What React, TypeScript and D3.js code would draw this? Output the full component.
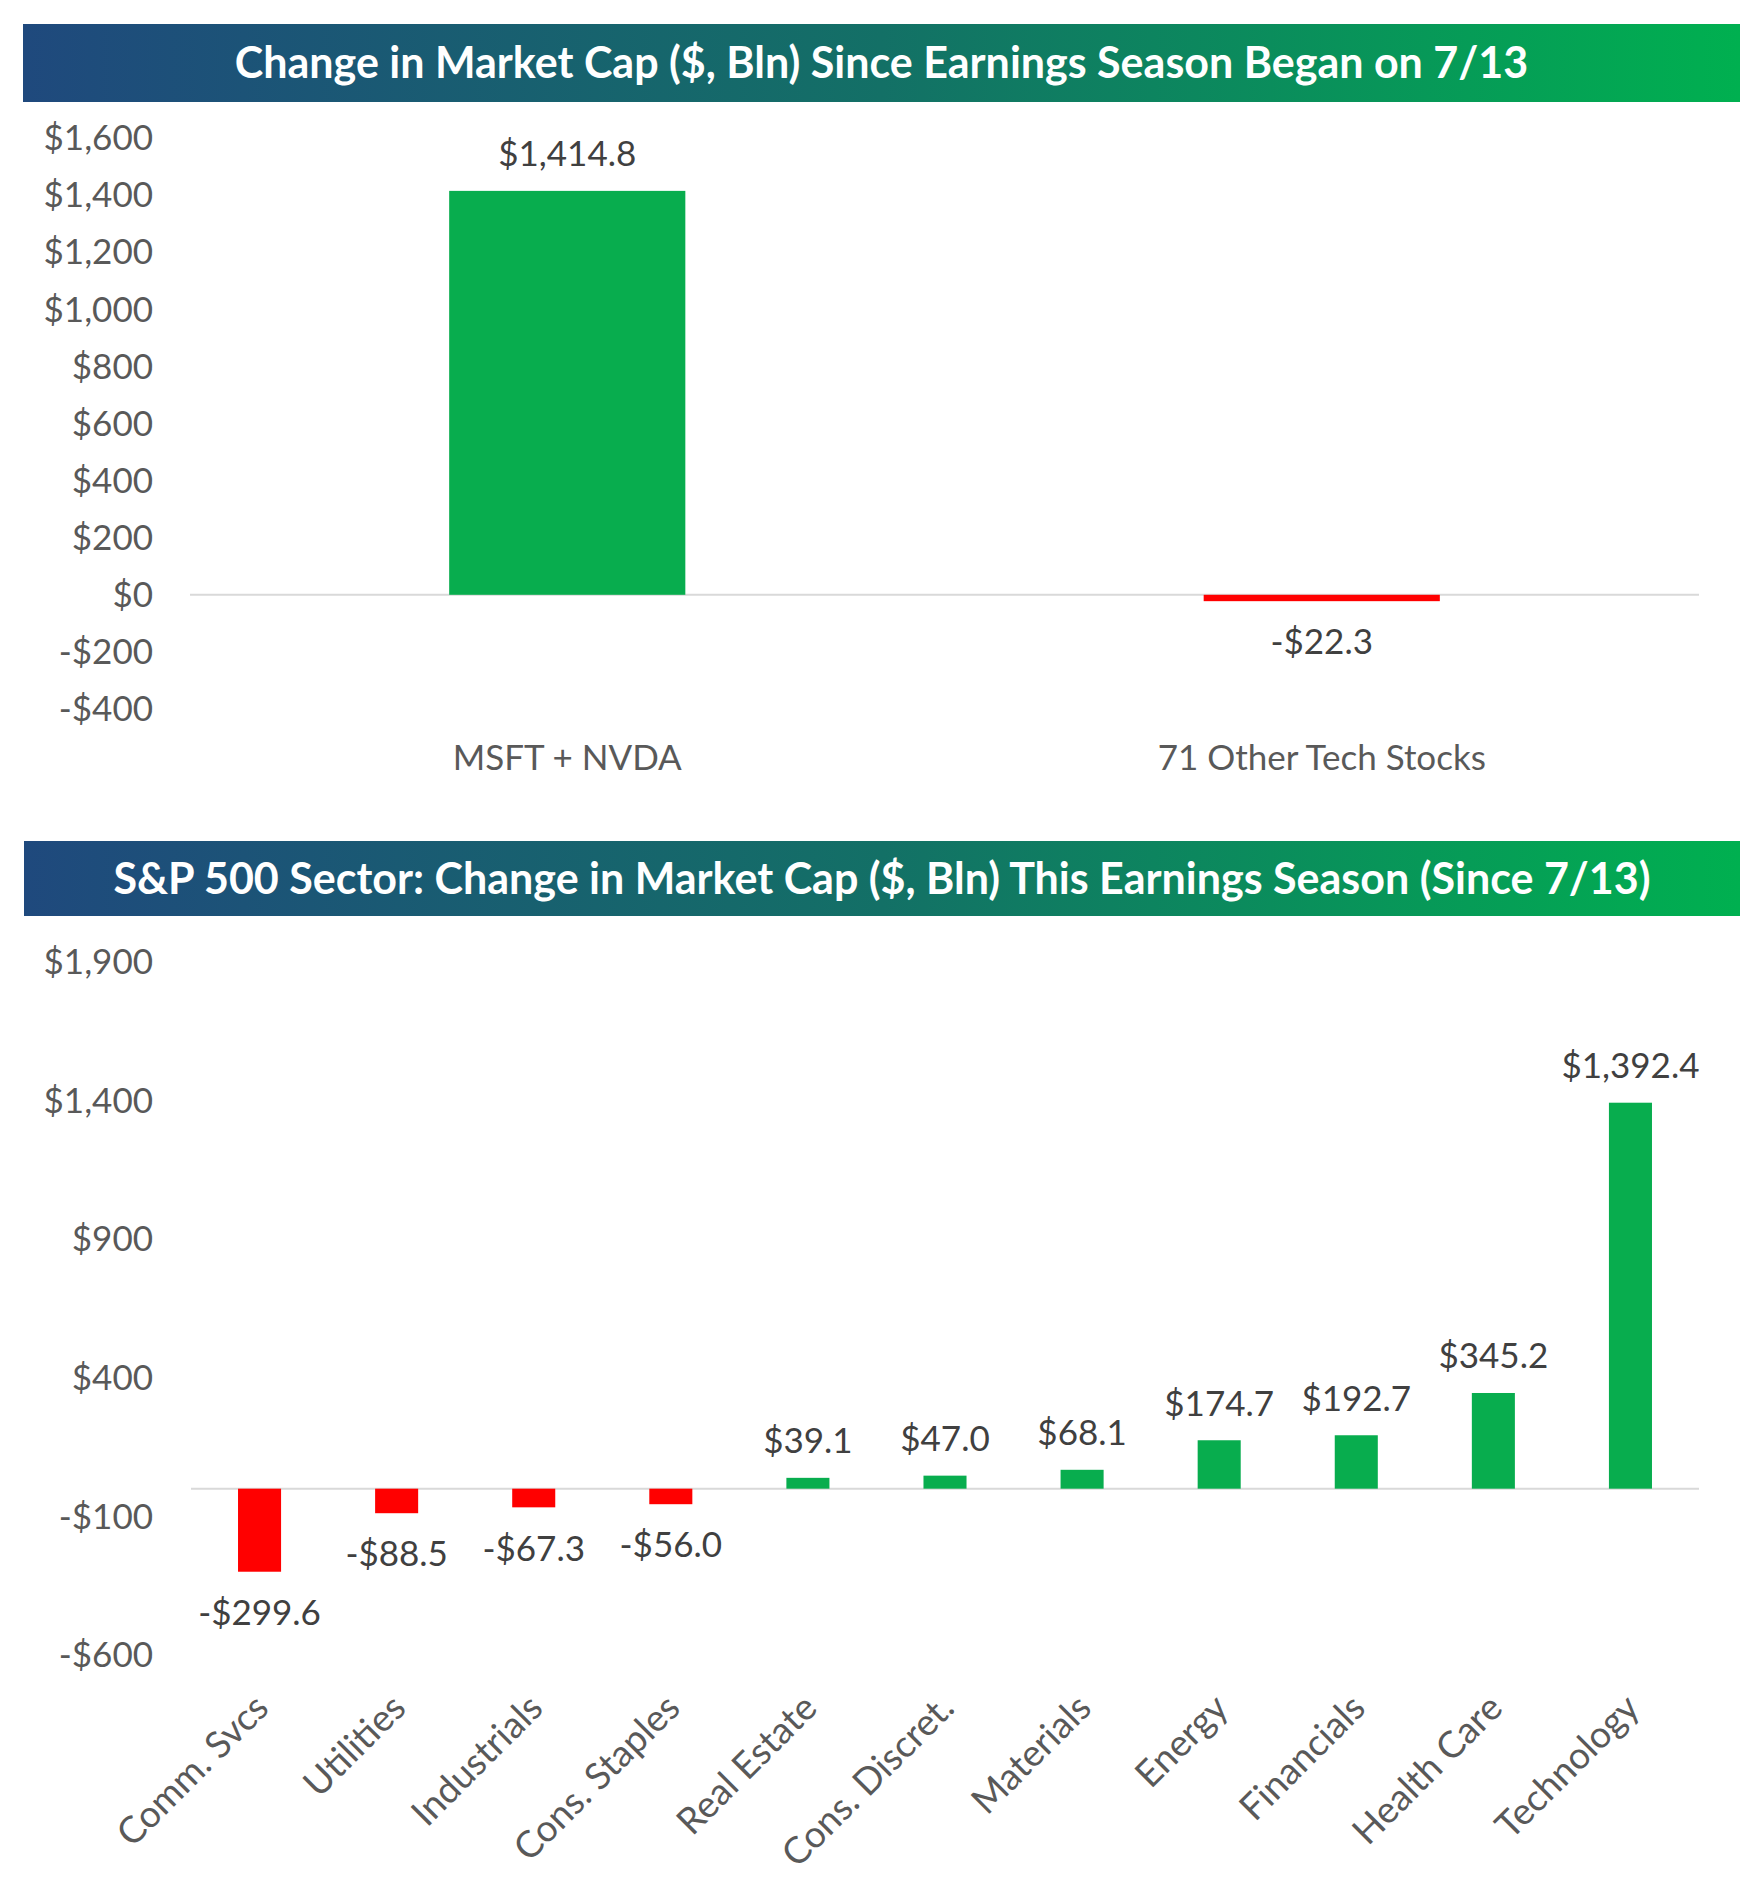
import React from "react";
import * as d3 from "d3";

const topCategories = ["MSFT + NVDA", "71 Other Tech Stocks"];
const topValues = [1414.8, -22.3];
const topTicks = [-400, -200, 0, 200, 400, 600, 800, 1000, 1200, 1400, 1600];

const sectorCategories = [
  "Comm. Svcs",
  "Utilities",
  "Industrials",
  "Cons. Staples",
  "Real Estate",
  "Cons. Discret.",
  "Materials",
  "Energy",
  "Financials",
  "Health Care",
  "Technology",
];
const sectorValues = [-299.6, -88.5, -67.3, -56.0, 39.1, 47.0, 68.1, 174.7, 192.7, 345.2, 1392.4];
const sectorTicks = [-600, -100, 400, 900, 1400, 1900];

const topTitle = "Change in Market Cap ($, Bln) Since Earnings Season Began on 7/13";
const bottomTitle = "S&P 500 Sector: Change in Market Cap ($, Bln) This Earnings Season (Since 7/13)";

const W = 1764;
const H = 1886;
const FONT = "Lato, 'Open Sans', sans-serif";
const GREEN = "#08AD4E";
const RED = "#FF0000";
const AXIS_TEXT = "#595959";
const LABEL_TEXT = "#404040";

const fmtTick = (v: number) => (v < 0 ? "-" : "") + "$" + d3.format(",")(Math.abs(v));
const fmtVal = (v: number) => (v < 0 ? "-" : "") + "$" + d3.format(",.1f")(Math.abs(v));

function Banner({ x0, x1, y0, y1, text, id }: any) {
  return (
    <g>
      <defs>
        <linearGradient id={id} x1="0" x2="1" y1="0" y2="0">
          <stop offset="0%" stopColor="#1F497D" />
          <stop offset="50%" stopColor="#137066" />
          <stop offset="100%" stopColor="#00B050" />
        </linearGradient>
      </defs>
      <rect x={x0} y={y0} width={x1 - x0} height={y1 - y0} fill={`url(#${id})`} />
      <text
        x={(x0 + x1) / 2}
        y={(y0 + y1) / 2}
        dy="0.36em"
        textAnchor="middle"
        fill="#FFFFFF"
        fontFamily={FONT}
        fontWeight={700}
        fontSize={43}
      >
        {text}
      </text>
    </g>
  );
}

export default function App() {
  // Top chart
  const xTop = d3.scaleBand<string>().domain(topCategories).range([190, 1699]);
  const yTop = d3.scaleLinear().domain([-400, 1600]).range([709, 138]);
  const topBarW = xTop.bandwidth() * 0.313;

  // Bottom chart
  const xBot = d3.scaleBand<string>().domain(sectorCategories).range([191, 1699]);
  const yBot = d3.scaleLinear().domain([-600, 1900]).range([1655, 962]);
  const botBarW = xBot.bandwidth() * 0.314;

  const tickX = 153;
  const fs = 35;

  return (
    <svg
      width={W}
      height={H}
      viewBox={`0 0 ${W} ${H}`}
      style={{ position: "absolute", left: 0, top: 0, display: "block", background: "#fff" }}
    >
      <rect x={0} y={0} width={W} height={H} fill="#fff" />
      <Banner x0={23} x1={1740} y0={24} y1={102} text={topTitle} id="g1" />
      <Banner x0={24} x1={1740} y0={841} y1={916} text={bottomTitle} id="g2" />

      {/* Top chart axis labels */}
      <g fontFamily={FONT} fontSize={fs} fill={AXIS_TEXT}>
        {topTicks.map((t) => (
          <text key={t} x={tickX} y={yTop(t)} dy="0.35em" textAnchor="end">
            {fmtTick(t)}
          </text>
        ))}
      </g>
      <line x1={190} x2={1699} y1={yTop(0)} y2={yTop(0)} stroke="#D9D9D9" strokeWidth={2} />
      {topCategories.map((c, i) => {
        const v = topValues[i];
        const cx = (xTop(c) as number) + xTop.bandwidth() / 2;
        const y0 = yTop(0);
        const y1 = yTop(v);
        return (
          <g key={c}>
            <rect
              x={cx - topBarW / 2}
              y={Math.min(y0, y1)}
              width={topBarW}
              height={Math.max(Math.abs(y1 - y0), 1)}
              fill={v >= 0 ? GREEN : RED}
            />
            <text
              x={cx}
              y={v >= 0 ? y1 - 37 : y1 + 41}
              dy="0.35em"
              textAnchor="middle"
              fontFamily={FONT}
              fontSize={fs}
              fill={LABEL_TEXT}
            >
              {fmtVal(v)}
            </text>
            <text
              x={cx}
              y={758}
              dy="0.35em"
              textAnchor="middle"
              fontFamily={FONT}
              fontSize={fs}
              fill={AXIS_TEXT}
            >
              {c}
            </text>
          </g>
        );
      })}

      {/* Bottom chart */}
      <g fontFamily={FONT} fontSize={fs} fill={AXIS_TEXT}>
        {sectorTicks.map((t) => (
          <text key={t} x={tickX} y={yBot(t)} dy="0.35em" textAnchor="end">
            {fmtTick(t)}
          </text>
        ))}
      </g>
      <line x1={191} x2={1699} y1={yBot(0)} y2={yBot(0)} stroke="#D9D9D9" strokeWidth={2} />
      {sectorCategories.map((c, i) => {
        const v = sectorValues[i];
        const cx = (xBot(c) as number) + xBot.bandwidth() / 2;
        const y0 = yBot(0);
        const y1 = yBot(v);
        return (
          <g key={c}>
            <rect
              x={cx - botBarW / 2}
              y={Math.min(y0, y1)}
              width={botBarW}
              height={Math.abs(y1 - y0)}
              fill={v >= 0 ? GREEN : RED}
            />
            <text
              x={cx}
              y={v >= 0 ? y1 - 37 : y1 + 41}
              dy="0.35em"
              textAnchor="middle"
              fontFamily={FONT}
              fontSize={fs}
              fill={LABEL_TEXT}
            >
              {fmtVal(v)}
            </text>
            <text
              transform={`translate(${cx + 2},${1701}) rotate(-45)`}
              dy="0.35em"
              textAnchor="end"
              fontFamily={FONT}
              fontSize={37}
              fill={AXIS_TEXT}
            >
              {c}
            </text>
          </g>
        );
      })}
    </svg>
  );
}
